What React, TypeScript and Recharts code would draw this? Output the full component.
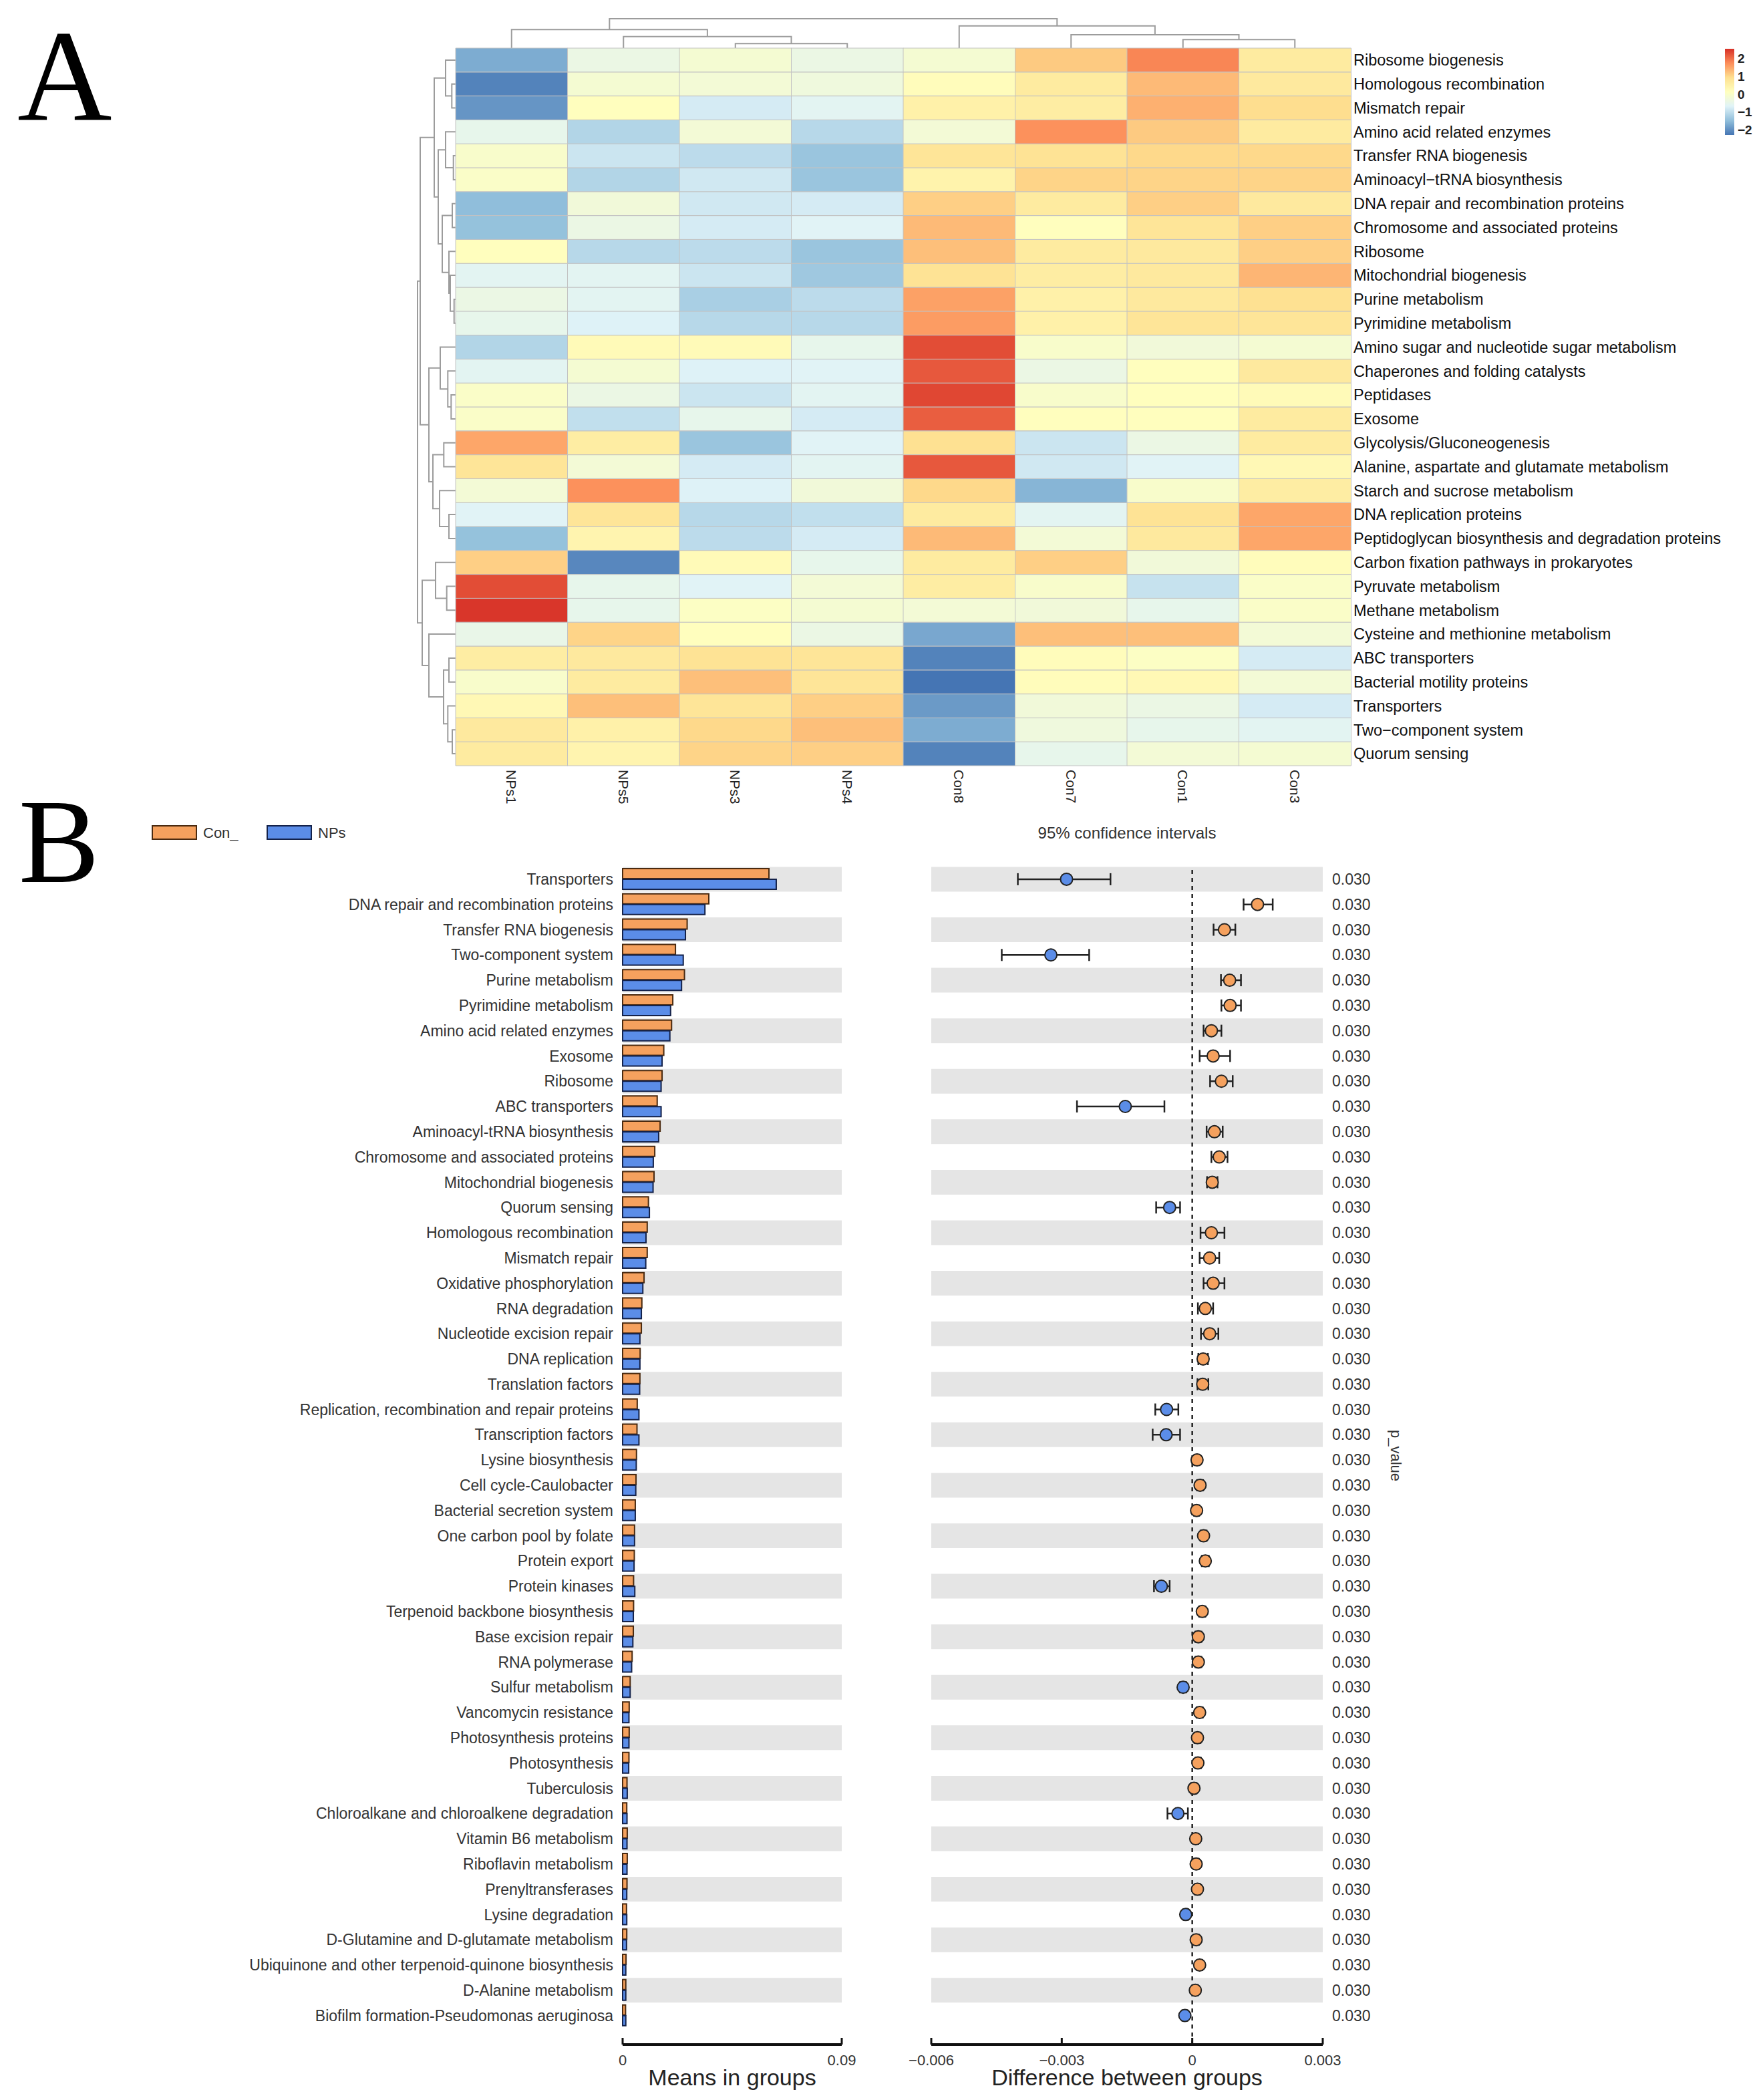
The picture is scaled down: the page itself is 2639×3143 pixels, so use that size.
import React from 'react';
import {
  BarChart,
  Bar,
  ScatterChart,
  Scatter,
  XAxis,
  YAxis,
  Cell,
  ReferenceArea,
  ReferenceLine,
  ErrorBar,
} from 'recharts';

const FONT = '"Liberation Sans", Arial, Helvetica, sans-serif';

// ---------- Panel A: heatmap ----------
const hmCols = ['NPs1', 'NPs5', 'NPs3', 'NPs4', 'Con8', 'Con7', 'Con1', 'Con3'];

const hmRows = [
  'Ribosome biogenesis',
  'Homologous recombination',
  'Mismatch repair',
  'Amino acid related enzymes',
  'Transfer RNA biogenesis',
  'Aminoacyl\u2212tRNA biosynthesis',
  'DNA repair and recombination proteins',
  'Chromosome and associated proteins',
  'Ribosome',
  'Mitochondrial biogenesis',
  'Purine metabolism',
  'Pyrimidine metabolism',
  'Amino sugar and nucleotide sugar metabolism',
  'Chaperones and folding catalysts',
  'Peptidases',
  'Exosome',
  'Glycolysis/Gluconeogenesis',
  'Alanine, aspartate and glutamate metabolism',
  'Starch and sucrose metabolism',
  'DNA replication proteins',
  'Peptidoglycan biosynthesis and degradation proteins',
  'Carbon fixation pathways in prokaryotes',
  'Pyruvate metabolism',
  'Methane metabolism',
  'Cysteine and methionine metabolism',
  'ABC transporters',
  'Bacterial motility proteins',
  'Transporters',
  'Two\u2212component system',
  'Quorum sensing',
];

// z-scores, one row per pathway, columns in hmCols order
const hmValues = [
  [-1.7, -0.4, -0.15, -0.4, -0.15, 1.15, 1.8, 0.65],
  [-2.15, -0.15, -0.2, -0.3, 0.2, 0.65, 1.3, 0.7],
  [-1.95, 0.15, -0.8, -0.6, 0.5, 0.6, 1.4, 0.95],
  [-0.5, -1.15, -0.2, -1.1, -0.2, 1.7, 1.15, 0.65],
  [-0.05, -0.9, -1.05, -1.4, 0.8, 0.85, 1.0, 1.0],
  [0.0, -1.15, -0.85, -1.4, 0.45, 1.05, 1.05, 1.05],
  [-1.5, -0.25, -0.85, -0.8, 1.1, 0.65, 1.1, 0.7],
  [-1.45, -0.4, -0.8, -0.65, 1.3, 0.15, 0.8, 1.1],
  [0.15, -1.1, -1.05, -1.4, 1.25, 0.65, 0.7, 1.1],
  [-0.6, -0.6, -0.9, -1.35, 0.85, 0.6, 0.7, 1.35],
  [-0.4, -0.6, -1.25, -1.05, 1.55, 0.5, 0.7, 0.9],
  [-0.5, -0.7, -1.1, -1.1, 1.6, 0.5, 0.8, 0.8],
  [-1.15, 0.25, 0.25, -0.5, 2.3, -0.05, -0.25, -0.15],
  [-0.6, -0.15, -0.7, -0.65, 2.2, -0.4, 0.15, 0.7],
  [0.0, -0.4, -0.9, -0.6, 2.35, -0.05, 0.15, 0.25],
  [0.0, -1.0, -0.5, -0.8, 2.15, 0.15, 0.15, 0.65],
  [1.5, 0.6, -1.4, -0.65, 0.9, -0.9, -0.4, 0.65],
  [0.8, -0.2, -0.8, -0.6, 2.2, -0.85, -0.65, 0.3],
  [-0.2, 1.7, -0.7, -0.25, 1.0, -1.6, -0.05, 0.6],
  [-0.65, 0.8, -1.1, -1.0, 0.65, -0.6, 0.85, 1.5],
  [-1.45, 0.4, -1.05, -0.8, 1.3, -0.2, 0.7, 1.5],
  [1.1, -2.1, 0.25, -0.5, 0.65, 1.1, -0.25, 0.2],
  [2.3, -0.5, -0.65, -0.2, 0.6, -0.05, -0.95, 0.0],
  [2.5, -0.5, 0.05, -0.15, -0.2, -0.25, -0.5, 0.0],
  [-0.45, 1.05, 0.15, -0.4, -1.75, 1.25, 1.25, -0.2],
  [0.6, 0.7, 0.85, 0.8, -2.15, 0.2, 0.05, -0.8],
  [-0.05, 0.65, 1.25, 0.8, -2.3, 0.2, 0.3, -0.2],
  [0.3, 1.25, 0.8, 1.1, -1.9, -0.25, -0.4, -0.8],
  [0.7, 0.5, 1.0, 1.25, -1.7, -0.3, -0.5, -0.6],
  [0.65, 0.4, 1.05, 1.1, -2.15, -0.5, -0.2, -0.15],
];

const hmRange = [-2.3, 2.55];
const hmScaleTicks = [-2, -1, 0, 1, 2];
const hmPalette = ['#4575B4', '#91BFDB', '#E0F3F8', '#FFFFBF', '#FEE090', '#FC8D59', '#D73027'];

// hclust-style merges: negative = leaf (1-based), positive = earlier merge; third value = height
const colMerge = [
  [-3, -4, 6.8],
  [-2, 1, 17.3],
  [-1, 2, 27.8],
  [-7, -8, 12.8],
  [-6, 4, 19.9],
  [-5, 5, 33.3],
  [3, 6, 44],
];

const rowMerge = [
  [-2, -3, 5.7],
  [-1, 1, 15],
  [-5, -6, 3.3],
  [-4, 3, 15],
  [-7, -8, 5],
  [-11, -12, 2.3],
  [-10, 6, 8],
  [-9, 7, 10],
  [5, 8, 20],
  [4, 9, 26],
  [2, 10, 32],
  [-15, -16, 6.7],
  [-14, 12, 11.7],
  [-13, 13, 23],
  [-17, -18, 17.7],
  [-20, -21, 10],
  [-19, 16, 24],
  [15, 17, 34],
  [14, 18, 40],
  [11, 19, 53],
  [-23, -24, 13.3],
  [-22, 21, 30],
  [-26, -27, 10],
  [-29, -30, 5],
  [-28, 24, 11.7],
  [23, 25, 18],
  [-25, 26, 40],
  [22, 27, 50],
  [20, 28, 57],
];

// ---------- Panel B: extended error bar ----------
const bNames = [
  'Transporters',
  'DNA repair and recombination proteins',
  'Transfer RNA biogenesis',
  'Two-component system',
  'Purine metabolism',
  'Pyrimidine metabolism',
  'Amino acid related enzymes',
  'Exosome',
  'Ribosome',
  'ABC transporters',
  'Aminoacyl-tRNA biosynthesis',
  'Chromosome and associated proteins',
  'Mitochondrial biogenesis',
  'Quorum sensing',
  'Homologous recombination',
  'Mismatch repair',
  'Oxidative phosphorylation',
  'RNA degradation',
  'Nucleotide excision repair',
  'DNA replication',
  'Translation factors',
  'Replication, recombination and repair proteins',
  'Transcription factors',
  'Lysine biosynthesis',
  'Cell cycle-Caulobacter',
  'Bacterial secretion system',
  'One carbon pool by folate',
  'Protein export',
  'Protein kinases',
  'Terpenoid backbone biosynthesis',
  'Base excision repair',
  'RNA polymerase',
  'Sulfur metabolism',
  'Vancomycin resistance',
  'Photosynthesis proteins',
  'Photosynthesis',
  'Tuberculosis',
  'Chloroalkane and chloroalkene degradation',
  'Vitamin B6 metabolism',
  'Riboflavin metabolism',
  'Prenyltransferases',
  'Lysine degradation',
  'D-Glutamine and D-glutamate metabolism',
  'Ubiquinone and other terpenoid-quinone biosynthesis',
  'D-Alanine metabolism',
  'Biofilm formation-Pseudomonas aeruginosa',
];

const bCon = [
  0.0601, 0.0354, 0.0265, 0.0217, 0.0254, 0.0206, 0.0201, 0.0169, 0.0162, 0.0142,
  0.0154, 0.0132, 0.0129, 0.0106, 0.0101, 0.0101, 0.0088, 0.0079, 0.0077, 0.0072,
  0.0071, 0.006, 0.0059, 0.0057, 0.0055, 0.0052, 0.0049, 0.0048, 0.0045, 0.0045,
  0.0044, 0.0039, 0.0031, 0.0027, 0.0027, 0.0026, 0.0018, 0.0017, 0.0019, 0.0019,
  0.0018, 0.0016, 0.0017, 0.0014, 0.0013, 0.0012,
];

const bNps = [
  0.0631, 0.0338, 0.0258, 0.0249, 0.0242, 0.0197, 0.0194, 0.0162, 0.0158, 0.0158,
  0.0148, 0.0126, 0.0125, 0.011, 0.0096, 0.0095, 0.0083, 0.0077, 0.0071, 0.0071,
  0.007, 0.0067, 0.0067, 0.0056, 0.0054, 0.0052, 0.0049, 0.0047, 0.005, 0.0044,
  0.0042, 0.0037, 0.0031, 0.0026, 0.0026, 0.0025, 0.0019, 0.0018, 0.0018, 0.0018,
  0.0017, 0.0017, 0.0016, 0.0013, 0.0013, 0.0013,
];

const bDiff = [
  -0.00289, 0.0015, 0.00074, -0.00325, 0.00086, 0.00087, 0.00044, 0.00048, 0.00067, -0.00154,
  0.00051, 0.00062, 0.00046, -0.00052, 0.00044, 0.0004, 0.00048, 0.0003, 0.0004, 0.00025,
  0.00024, -0.00059, -0.0006, 0.00011, 0.00018, 0.0001, 0.00026, 0.0003, -0.00071, 0.00023,
  0.00014, 0.00014, -0.00021, 0.00017, 0.00012, 0.00013, 0.00004, -0.00033, 0.00008, 0.00009,
  0.00012, -0.00015, 0.00009, 0.00017, 0.00007, -0.00017,
];

const bLow = [
  -0.00401, 0.00118, 0.00049, -0.00438, 0.00066, 0.00067, 0.00026, 0.00017, 0.00041, -0.00265,
  0.00033, 0.00044, 0.00034, -0.00083, 0.00019, 0.00017, 0.00026, 0.00013, 0.0002, 0.00014,
  0.00012, -0.00085, -0.00091, 0.00005, 0.00011, 0.00004, 0.00019, 0.00022, -0.00088, 0.00016,
  0.00007, 0.00007, -0.00028, 0.0001, 0.00005, 0.00007, -0.00003, -0.00057, 0.00002, 0.00003,
  0.00006, -0.00021, 0.00003, 0.00011, 0.00001, -0.00023,
];

const bHigh = [
  -0.00188, 0.00185, 0.00099, -0.00237, 0.00112, 0.00112, 0.00067, 0.00087, 0.00093, -0.00064,
  0.0007, 0.00081, 0.00058, -0.00028, 0.00074, 0.00062, 0.00074, 0.00048, 0.0006, 0.00036,
  0.00037, -0.00032, -0.00028, 0.00017, 0.00025, 0.00016, 0.00033, 0.00038, -0.00052, 0.0003,
  0.00021, 0.00021, -0.00014, 0.00024, 0.00019, 0.0002, 0.0001, -0.0001, 0.00014, 0.00015,
  0.00018, -0.00009, 0.00015, 0.00023, 0.00013, -0.00011,
];

const pValues = bNames.map(() => '0.030');

const meanTicks = [0, 0.09];
const diffTicks = [-0.006, -0.003, 0, 0.003];

const bSeries = [
  { key: 'con', name: 'Con_', color: '#F5A15E', edge: '#4a2a10' },
  { key: 'nps', name: 'NPs', color: '#5B8DE8', edge: '#14224a' },
];

// ---------- helpers ----------
const hexToRgb = (h: string) => [1, 3, 5].map((i) => parseInt(h.slice(i, i + 2), 16));

const heatColor = (v: number) => {
  const t = Math.max(0, Math.min(1, (v - hmRange[0]) / (hmRange[1] - hmRange[0])));
  const s = t * (hmPalette.length - 1);
  const i = Math.min(hmPalette.length - 2, Math.floor(s));
  const f = s - i;
  const a = hexToRgb(hmPalette[i]);
  const b = hexToRgb(hmPalette[i + 1]);
  const c = a.map((x, k) => Math.round(x + (b[k] - x) * f));
  return `rgb(${c[0]},${c[1]},${c[2]})`;
};

const minusFmt = (v: number) => (v < 0 ? `\u2212${Math.abs(v)}` : `${v}`);

// turn merges into U-shaped paths (leaf position, height)
const dendroPaths = (merge: number[][]) => {
  const pos: number[] = [];
  const hgt: number[] = [];
  const get = (k: number) => (k < 0 ? { p: -k - 0.5, h: 0 } : { p: pos[k - 1], h: hgt[k - 1] });
  return merge.map(([a, b, h], i) => {
    const A = get(a);
    const B = get(b);
    pos[i] = (A.p + B.p) / 2;
    hgt[i] = h;
    return [
      { p: A.p, h: A.h },
      { p: A.p, h },
      { p: B.p, h },
      { p: B.p, h: B.h },
    ];
  });
};

const colPaths = dendroPaths(colMerge);
const rowPaths = dendroPaths(rowMerge);

const hmData = hmCols.map((c) => {
  const d: any = { col: c };
  hmRows.forEach((_, i) => {
    d['r' + i] = 1;
  });
  return d;
});

const scaleData = [{ k: 'z', span: hmRange }];

const bData = bNames.map((name, i) => ({
  idx: i,
  name,
  con: bCon[i],
  nps: bNps[i],
  diff: bDiff[i],
  err: [bDiff[i] - bLow[i], bHigh[i] - bDiff[i]],
}));

const rowIdx = bNames.map((_, i) => i);
const bandRows = rowIdx.filter((i) => i % 2 === 0);
const bDomain = [-0.5, 46.15];

const noDot = () => <g />;
const dendroLine = { stroke: '#9c9c9c', strokeWidth: 2 };

const ColTick = (props: any) => {
  const { x, y, payload } = props;
  return (
    <text
      x={x}
      y={y + 4}
      transform={`rotate(90 ${x} ${y + 4})`}
      textAnchor="start"
      dominantBaseline="central"
      fontSize={21}
      fill="#222"
    >
      {payload.value}
    </text>
  );
};

const makeAxisTick = (fmt: (v: number) => string) => (props: any) => {
  const { x, y, payload } = props;
  return (
    <g>
      <line x1={x} y1={y} x2={x} y2={y - 10} stroke="#111" strokeWidth={3} />
      <text x={x} y={y + 31} textAnchor="middle" fontSize={22} fill="#333">
        {fmt(payload.value)}
      </text>
    </g>
  );
};

const DiffDot = (props: any) => {
  const { cx, cy, payload } = props;
  const fill = payload.diff > 0 ? bSeries[0].color : bSeries[1].color;
  return <circle cx={cx} cy={cy} r={9} fill={fill} stroke="#222" strokeWidth={2} />;
};

const App = () => {
  return (
    <div style={{ position: 'relative', width: 2639, height: 3143, background: '#fff', fontFamily: FONT }}>
      <style>{'body{margin:0}'}</style>

      {/* column dendrogram */}
      <div style={{ position: 'absolute', left: 0, top: 0 }}>
        <ScatterChart width={2639} height={73} margin={{ top: 28, left: 682, right: 617, bottom: 1 }}>
          <XAxis type="number" dataKey="p" domain={[0, 8]} hide />
          <YAxis type="number" dataKey="h" domain={[0, 44]} hide />
          {colPaths.map((d, i) => (
            <Scatter key={i} data={d} line={dendroLine} shape={noDot} isAnimationActive={false} />
          ))}
        </ScatterChart>
      </div>

      {/* row dendrogram */}
      <div style={{ position: 'absolute', left: 0, top: 0 }}>
        <ScatterChart width={683} height={1146} margin={{ top: 72, left: 624, right: 1, bottom: 0 }}>
          <XAxis type="number" dataKey="h" domain={[0, 58]} reversed hide />
          <YAxis type="number" dataKey="p" domain={[0, 30]} reversed hide />
          {rowPaths.map((d, i) => (
            <Scatter
              key={i}
              data={d.map((q) => ({ h: q.h, p: q.p }))}
              line={dendroLine}
              shape={noDot}
              isAnimationActive={false}
            />
          ))}
        </ScatterChart>
      </div>

      {/* heatmap */}
      <div style={{ position: 'absolute', left: 0, top: 0 }}>
        <BarChart
          width={2639}
          height={1240}
          data={hmData}
          margin={{ top: 72, left: 682, right: 17, bottom: 0 }}
          barCategoryGap={0}
        >
          <XAxis
            dataKey="col"
            type="category"
            height={94}
            axisLine={false}
            tickLine={false}
            tickSize={0}
            interval={0}
            tick={<ColTick />}
          />
          <YAxis
            type="number"
            orientation="right"
            domain={[0, 30]}
            ticks={hmRows.map((_, k) => k + 0.5)}
            interval={0}
            width={600}
            axisLine={false}
            tickLine={false}
            tickSize={0}
            tickMargin={4}
            tickFormatter={(v: number) => hmRows[29 - Math.floor(v)]}
            tick={{ fontSize: 23.5, fill: '#111' }}
          />
          {hmRows.map((_, k) => {
            const i = hmRows.length - 1 - k;
            return (
              <Bar
                key={i}
                dataKey={'r' + i}
                stackId="hm"
                stroke="#c2c2c2"
                strokeWidth={1}
                isAnimationActive={false}
              >
                {hmCols.map((c, j) => (
                  <Cell key={c} fill={heatColor(hmValues[i][j])} />
                ))}
              </Bar>
            );
          })}
        </BarChart>
      </div>

      {/* heatmap colour key */}
      <div style={{ position: 'absolute', left: 2560, top: 0 }}>
        <BarChart
          width={79}
          height={220}
          data={scaleData}
          margin={{ top: 73, left: 22, right: 0, bottom: 18 }}
          barCategoryGap={0}
        >
          <defs>
            <linearGradient id="hmGrad" x1="0" y1="1" x2="0" y2="0">
              {hmPalette.map((c, i) => (
                <stop key={c} offset={`${(i / (hmPalette.length - 1)) * 100}%`} stopColor={c} />
              ))}
            </linearGradient>
          </defs>
          <XAxis dataKey="k" hide />
          <YAxis
            type="number"
            orientation="right"
            domain={hmRange}
            allowDataOverflow
            ticks={hmScaleTicks}
            interval={0}
            width={43}
            axisLine={false}
            tickLine={false}
            tickSize={0}
            tickMargin={5}
            tickFormatter={minusFmt}
            tick={{ fontSize: 19, fill: '#222', fontWeight: 'bold' }}
          />
          <Bar dataKey="span" fill="url(#hmGrad)" isAnimationActive={false} />
        </BarChart>
      </div>

      {/* B: means in groups */}
      <div style={{ position: 'absolute', left: 0, top: 1200 }}>
        <BarChart
          width={1300}
          height={1943}
          data={bData}
          layout="vertical"
          margin={{ top: 97, left: 232, right: 40, bottom: 0 }}
          barGap={1}
        >
          {bandRows.map((i) => (
            <ReferenceArea
              key={i}
              y1={i - 0.49}
              y2={i + 0.49}
              fill="#e5e5e5"
              fillOpacity={1}
              stroke="none"
            />
          ))}
          <XAxis
            type="number"
            domain={[0, 0.09]}
            ticks={meanTicks}
            interval={0}
            height={83}
            axisLine={{ stroke: '#111', strokeWidth: 4 }}
            tickLine={false}
            tickSize={0}
            tickMargin={0}
            tick={makeAxisTick((v) => `${v}`)}
            label={{ value: 'Means in groups', position: 'insideBottom', offset: 22, fontSize: 34, fill: '#222' }}
          />
          <YAxis
            type="number"
            dataKey="idx"
            domain={bDomain}
            ticks={rowIdx}
            interval={0}
            width={700}
            axisLine={false}
            tickLine={false}
            tickSize={0}
            tickMargin={14}
            tickFormatter={(v: number) => bNames[v]}
            tick={{ fontSize: 23, fill: '#333' }}
          />
          {bSeries.map((s) => (
            <Bar
              key={s.key}
              dataKey={s.key}
              name={s.name}
              fill={s.color}
              stroke={s.edge}
              strokeWidth={2}
              barSize={15}
              isAnimationActive={false}
            />
          ))}
        </BarChart>
      </div>

      {/* B: difference between groups */}
      <div style={{ position: 'absolute', left: 1300, top: 1200 }}>
        <ScatterChart width={1339} height={1943} margin={{ top: 97, left: 94, right: 439, bottom: 0 }}>
          {bandRows.map((i) => (
            <ReferenceArea
              key={i}
              y1={i - 0.49}
              y2={i + 0.49}
              fill="#e5e5e5"
              fillOpacity={1}
              stroke="none"
            />
          ))}
          <XAxis
            type="number"
            dataKey="diff"
            domain={[-0.006, 0.003]}
            allowDataOverflow
            ticks={diffTicks}
            interval={0}
            height={83}
            axisLine={{ stroke: '#111', strokeWidth: 4 }}
            tickLine={false}
            tickSize={0}
            tickMargin={0}
            tick={makeAxisTick(minusFmt)}
            label={{
              value: 'Difference between groups',
              position: 'insideBottom',
              offset: 22,
              fontSize: 34,
              fill: '#222',
            }}
          />
          <YAxis
            type="number"
            dataKey="idx"
            orientation="right"
            domain={bDomain}
            reversed
            ticks={rowIdx}
            interval={0}
            width={220}
            axisLine={false}
            tickLine={false}
            tickSize={0}
            tickMargin={14}
            tickFormatter={(v: number) => pValues[v]}
            tick={{ fontSize: 23, fill: '#333' }}
            label={{ value: 'p_value', angle: 90, position: 'center', fontSize: 22, fill: '#333' }}
          />
          <ReferenceLine x={0} stroke="#222" strokeWidth={2.5} strokeDasharray="6 6" />
          <Scatter data={bData} shape={DiffDot} isAnimationActive={false}>
            <ErrorBar dataKey="err" direction="x" width={9} stroke="#222" strokeWidth={2.5} />
          </Scatter>
        </ScatterChart>
      </div>

      {/* panel letters, CI title, group legend */}
      <svg
        width={2639}
        height={3143}
        style={{ position: 'absolute', left: 0, top: 0, pointerEvents: 'none' }}
      >
        <text x={26} y={180} fontFamily='"Liberation Serif", "Times New Roman", serif' fontSize={196} fill="#000">
          A
        </text>
        <text x={28} y={1320} fontFamily='"Liberation Serif", "Times New Roman", serif' fontSize={181} fill="#000">
          B
        </text>
        <text x={1687} y={1255} textAnchor="middle" fontSize={24} fill="#333">
          95% confidence intervals
        </text>
        {bSeries.map((s, i) => (
          <g key={s.key}>
            <rect x={228 + i * 172} y={1236} width={66} height={20} fill={s.color} stroke={s.edge} strokeWidth={2} />
            <text x={304 + i * 172} y={1254} fontSize={22} fill="#333">
              {s.name}
            </text>
          </g>
        ))}
      </svg>
    </div>
  );
};

export default App;
